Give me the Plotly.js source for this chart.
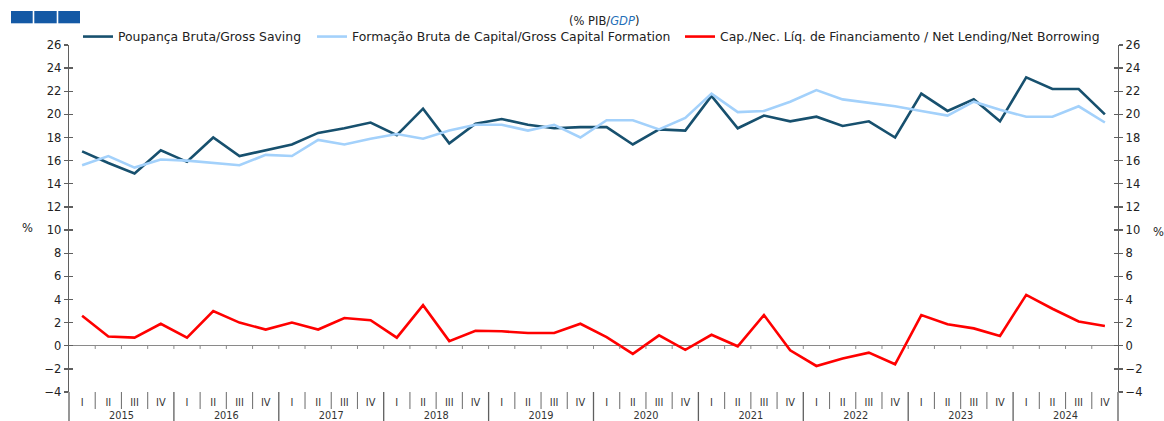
<!DOCTYPE html>
<html>
<head>
<meta charset="utf-8">
<script src="https://cdn.plot.ly/plotly-3.0.1.min.js"></script>
<style>html,body{margin:0;padding:0;background:#fff}#chart{width:1164px;height:421px}</style>
</head>
<body>
<div id="chart"></div>
<script>
const years = ['2015','2016','2017','2018','2019','2020','2021','2022','2023','2024'];
const quarters = ['I','II','III','IV'];
const saving = [16.8,15.8,14.9,16.9,15.9,18.0,16.4,16.9,17.4,18.4,18.8,19.3,18.2,20.5,17.5,19.2,19.6,19.1,18.8,18.9,18.9,17.4,18.7,18.6,21.6,18.8,19.9,19.4,19.8,19.0,19.4,18.0,21.8,20.3,21.3,19.4,23.2,22.2,22.2,20.0];
const gcf = [15.6,16.4,15.4,16.1,16.0,15.8,15.6,16.5,16.4,17.8,17.4,17.9,18.3,17.9,18.6,19.1,19.1,18.6,19.1,18.0,19.5,19.5,18.7,19.7,21.8,20.2,20.3,21.1,22.1,21.3,21.0,20.7,20.3,19.9,21.1,20.4,19.8,19.8,20.7,19.3];
const netLending = [2.6,0.8,0.7,1.9,0.7,3.0,2.0,1.4,2.0,1.4,2.4,2.2,0.7,3.5,0.4,1.3,1.25,1.1,1.1,1.9,0.75,-0.7,0.9,-0.35,0.95,-0.05,2.65,-0.4,-1.75,-1.1,-0.6,-1.6,2.65,1.85,1.5,0.85,4.4,3.2,2.1,1.7];
const seriesNames = ['Poupança Bruta/Gross Saving','Formação Bruta de Capital/Gross Capital Formation','Cap./Nec. Líq. de Financiamento / Net Lending/Net Borrowing'];

const xYear = [], xQ = [];
years.forEach(y => quarters.forEach(q => { xYear.push(y); xQ.push(q); }));
const X = [xYear, xQ];
const nCat = xQ.length;

const font = 'DejaVu Sans, Liberation Sans, Arial, sans-serif';
const axisCol = '#5f5f5f';
const lineW = 2.6;

// geometry (pixels)
const W = 1164, H = 421, mL = 69, mR = 46, mT = 45, mB = 26, gap = 3;
const plotH = H - mT - mB;
const yBot = gap / plotH;               // bottom of y domain in paper units
const py = p => (H - mB - p) / plotH;   // pixel row -> paper y
const px = p => (p - mL) / (W - mL - mR); // pixel col -> paper x

const traces = [
  {x: X, y: saving, name: seriesNames[0], type: 'scatter', mode: 'lines', line: {color: '#17506e', width: lineW}, legend: 'legend'},
  {x: X, y: gcf, name: seriesNames[1], type: 'scatter', mode: 'lines', line: {color: '#a3d1fb', width: lineW}, legend: 'legend2'},
  {x: X, y: netLending, name: seriesNames[2], type: 'scatter', mode: 'lines', line: {color: '#ff0000', width: lineW}, legend: 'legend3'}
];
// invisible helper traces so that the extra y axes (right side / crossing ticks) get drawn
['y2','y3','y4'].forEach(ya => {
  traces.push({x: [[years[0]],[quarters[0]]], y: [0], yaxis: ya,
    type: 'scatter', mode: 'markers', marker: {opacity: 0, size: 1}, showlegend: false, hoverinfo: 'skip'});
});

const yCommon = {range: [-4, 26], dtick: 2, tick0: 0, domain: [yBot, 1], showgrid: false, zeroline: false,
  showline: true, linecolor: axisCol, linewidth: 1.3, tickcolor: axisCol, tickwidth: 1.3, ticklen: 4,
  tickfont: {family: font, size: 11.5, color: '#222'}, fixedrange: true};

const legCommon = {orientation: 'h', yanchor: 'middle', y: py(37), xanchor: 'left',
  font: {family: font, size: 12.4, color: '#222'}, bgcolor: 'rgba(0,0,0,0)', borderwidth: 0};

// decorative separators
const shapes = [];
for (let i = 0; i <= nCat; i++) {
  const xp = i / nCat;
  if (i > 0 && i < nCat) {
    shapes.push({type: 'line', xref: 'paper', yref: 'y', x0: xp, x1: xp, y0: 0, y1: -0.28, line: {color: '#8a8a8a', width: 1}});
  }
  const isYear = i % quarters.length === 0;
  shapes.push({type: 'line', xref: 'paper', yref: 'paper', x0: xp, x1: xp, y0: py(392), y1: isYear ? py(H + 2) : py(409),
    line: {color: isYear ? axisCol : '#777', width: isYear ? 1.3 : 1.1}});
}
const logoCol = '#1459a5';
[[11,32.7],[34.3,56.7],[58.3,80]].forEach(([a,b]) => {
  shapes.push({type: 'rect', xref: 'paper', yref: 'paper', x0: px(a), x1: px(b), y0: py(23.3), y1: py(11), fillcolor: logoCol, line: {width: 0}});
});

const layout = {
  width: W, height: H,
  margin: {l: mL, r: mR, t: mT, b: mB},
  paper_bgcolor: '#fff', plot_bgcolor: '#fff',
  showlegend: true,
  legend: Object.assign({}, legCommon, {x: px(78)}),
  legend2: Object.assign({}, legCommon, {x: px(312)}),
  legend3: Object.assign({}, legCommon, {x: px(680)}),
  xaxis: {type: 'multicategory', range: [-0.5, nCat - 0.5], anchor: 'free', position: 0, showline: false,
    ticks: '', showgrid: false, zeroline: false, showdividers: false,
    tickfont: {family: font, size: 9.8, color: '#333'}, fixedrange: true},
  yaxis: Object.assign({}, yCommon, {side: 'left', ticks: 'outside', zeroline: true, zerolinecolor: '#8a8a8a', zerolinewidth: 1.3}),
  yaxis2: Object.assign({}, yCommon, {side: 'right', overlaying: 'y', anchor: 'x', ticks: 'outside'}),
  yaxis3: Object.assign({}, yCommon, {side: 'left', overlaying: 'y', anchor: 'x', ticks: 'inside', showticklabels: false}),
  yaxis4: Object.assign({}, yCommon, {side: 'right', overlaying: 'y', anchor: 'x', ticks: 'inside', showticklabels: false}),
  annotations: [
    {text: '(% PIB/<i><span style="color:#1f6fb8">GDP</span></i>)', xref: 'paper', yref: 'paper', x: px(604), y: py(21),
      showarrow: false, xanchor: 'center', yanchor: 'middle', font: {family: font, size: 11.5, color: '#222'}},
    {text: '%', xref: 'paper', yref: 'paper', x: px(27), y: py(228), showarrow: false, xanchor: 'center', yanchor: 'middle',
      font: {family: font, size: 11.5, color: '#222'}},
    {text: '%', xref: 'paper', yref: 'paper', x: px(1158), y: py(232), showarrow: false, xanchor: 'center', yanchor: 'middle',
      font: {family: font, size: 11.5, color: '#222'}}
  ],
  shapes: shapes
};

Plotly.newPlot('chart', traces, layout, {displayModeBar: false, staticPlot: true});
</script>
</body>
</html>
